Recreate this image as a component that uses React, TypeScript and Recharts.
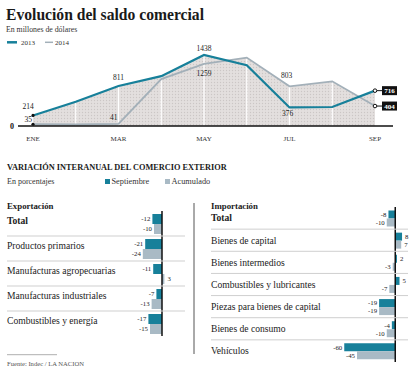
import React from "react";
import {
  Line,
  Area,
  XAxis,
  YAxis,
  ReferenceLine,
  LabelList,
  BarChart,
  Bar,
  ComposedChart,
} from "recharts";

const months = ["ENE", "FEB", "MAR", "ABR", "MAY", "JUN", "JUL", "AGO", "SEP"];
const monthTicks = ["ENE", "MAR", "MAY", "JUL", "SEP"];
const saldo2013 = [214, 490, 811, 1010, 1438, 1230, 376, 385, 716];
const saldo2014 = [35, 30, 41, 950, 1259, 1385, 803, 905, 404];

const exportCategories = [
  "Total",
  "Productos primarios",
  "Manufacturas agropecuarias",
  "Manufacturas industriales",
  "Combustibles y energía",
];
const exportSeptiembre = [-12, -21, -11, -7, -17];
const exportAcumulado = [-10, -24, 3, -13, -15];

const importCategories = [
  "Total",
  "Bienes de capital",
  "Bienes intermedios",
  "Combustibles y lubricantes",
  "Piezas para bienes de capital",
  "Bienes de consumo",
  "Vehículos",
];
const importSeptiembre = [-8, 8, 2, 5, -19, -4, -60];
const importAcumulado = [-10, 7, -3, -7, -19, -10, -45];

const TEAL = "#17809a";
const GRAY = "#a9bac5";
const LINE_GRAY = "#a3b0b9";
const SERIF = '"Liberation Serif", "Times New Roman", serif';

const lineData = months.map((m, i) => ({ month: m, y2013: saldo2013[i], y2014: saldo2014[i] }));
const exportData = exportCategories.map((name, i) => ({
  name,
  sep: exportSeptiembre[i],
  acu: exportAcumulado[i],
}));
const importData = importCategories.map((name, i) => ({
  name,
  sep: importSeptiembre[i],
  acu: importAcumulado[i],
}));

// label placement per point index (relative to the point)
const pos2013: Record<number, { dx: number; dy: number; anchor: string }> = {
  0: { dx: -5, dy: -6, anchor: "middle" },
  2: { dx: 0, dy: -5.5, anchor: "middle" },
  4: { dx: 0, dy: -4, anchor: "middle" },
  6: { dx: -2, dy: 9, anchor: "middle" },
};
const pos2014: Record<number, { dx: number; dy: number; anchor: string }> = {
  0: { dx: -1, dy: -2.5, anchor: "end" },
  2: { dx: -1, dy: -4, anchor: "end" },
  4: { dx: 0, dy: 12, anchor: "middle" },
  6: { dx: -3, dy: -8.5, anchor: "middle" },
};

const makeLineLabel = (pos: Record<number, { dx: number; dy: number; anchor: string }>) => (props: any) => {
  const { x, y, value, index } = props;
  if (index === 0) {
    const p = pos[0];
    return (
      <g>
        <circle cx={x} cy={y} r={1.6} fill="#111" />
        <text x={x + p.dx} y={y + p.dy} textAnchor={p.anchor} fontSize={7.5} fontFamily={SERIF} fill="#222">
          {value}
        </text>
      </g>
    );
  }
  if (index === months.length - 1) {
    return (
      <g>
        <circle cx={x} cy={y} r={1.8} fill="#fff" stroke="#111" strokeWidth={1} />
        <line x1={x + 1.8} y1={y} x2={x + 7} y2={y} stroke="#111" strokeWidth={1} />
        <rect x={x + 7} y={y - 4.5} width={15} height={9} fill="#111" />
        <text x={x + 14.5} y={y + 2.6} textAnchor="middle" fontSize={7} fontWeight="bold" fontFamily={SERIF} fill="#fff">
          {value}
        </text>
      </g>
    );
  }
  const p = pos[index];
  if (!p) return null;
  return (
    <text x={x + p.dx} y={y + p.dy} textAnchor={p.anchor} fontSize={7.5} fontFamily={SERIF} fill="#222">
      {value}
    </text>
  );
};

const valueLabel = (props: any) => {
  const { x, y, width, height, value } = props;
  const neg = value < 0;
  const end = neg ? Math.min(x, x + width) : Math.max(x, x + width);
  return (
    <text
      x={neg ? end - 2 : end + 3}
      y={y + height / 2}
      dy="0.35em"
      textAnchor={neg ? "end" : "start"}
      fontSize={6.8}
      fontFamily={SERIF}
      fill="#222"
    >
      {value}
    </text>
  );
};

const CategoryTick = (props: any) => {
  const { y, payload, index, count, band, left, right, dy } = props;
  return (
    <g>
      <text
        x={left}
        y={y + dy}
        dy="0.35em"
        fontSize={9.6}
        fontFamily={SERIF}
        fontWeight={index === 0 ? "bold" : "normal"}
        fill="#222"
      >
        {payload.value}
      </text>
      {index < count - 1 && (
        <line x1={left} x2={right} y1={y + band / 2} y2={y + band / 2} stroke="#cfcfcf" strokeWidth={1} />
      )}
    </g>
  );
};

const App = () => {
  return (
    <div style={{ position: "absolute", left: 0, top: 0, width: 420, height: 384, background: "#fff" }}>
      <svg width={420} height={384} style={{ position: "absolute", left: 0, top: 0 }}>
        <text
          x={6}
          y={20}
          fontSize={17}
          fontWeight="bold"
          fontFamily={SERIF}
          fill="#1a1a1a"
          textLength={198}
          lengthAdjust="spacingAndGlyphs"
        >
          Evolución del saldo comercial
        </text>
        <text x={6} y={31.5} fontSize={7.8} fontFamily={SERIF} fill="#333">
          En millones de dólares
        </text>
        <line x1={7} x2={17} y1={42.3} y2={42.3} stroke={TEAL} strokeWidth={2.5} />
        <text x={21} y={44.6} fontSize={7} fontFamily={SERIF} fill="#333">2013</text>
        <line x1={45} x2={53} y1={42.3} y2={42.3} stroke={LINE_GRAY} strokeWidth={1.5} />
        <text x={55} y={44.6} fontSize={7} fontFamily={SERIF} fill="#333">2014</text>
        <text x={14} y={128.8} textAnchor="end" fontSize={8} fontWeight="bold" fontFamily={SERIF} fill="#111">0</text>

        <text x={7} y={169.5} fontSize={8.3} fontWeight="bold" fontFamily={SERIF} fill="#1a1a1a">
          VARIACIÓN INTERANUAL DEL COMERCIO EXTERIOR
        </text>
        <text x={7} y={184} fontSize={8} fontFamily={SERIF} fill="#333">En porcentajes</text>
        <rect x={105} y={179} width={5} height={5} fill={TEAL} />
        <text x={111.5} y={184} fontSize={8.3} fontFamily={SERIF} fill="#333">Septiembre</text>
        <rect x={165} y={179} width={5} height={5} fill={GRAY} />
        <text x={171.5} y={184} fontSize={8.3} fontFamily={SERIF} fill="#333">Acumulado</text>

        <text x={7} y={208.5} fontSize={8.8} fontWeight="bold" fontFamily={SERIF} fill="#1a1a1a">Exportación</text>
        <text x={211} y={208.5} fontSize={8.8} fontWeight="bold" fontFamily={SERIF} fill="#1a1a1a">Importación</text>
        <line x1={194} x2={194} y1={203} y2={354} stroke="#555" strokeWidth={1} />
        <line x1={7} x2={57} y1={354.7} y2={354.7} stroke="#999" strokeWidth={0.8} />
        <text x={7} y={365.5} fontSize={6.6} fontFamily={SERIF} fill="#555">Fuente: Indec / LA NACION</text>
      </svg>

      <div style={{ position: "absolute", left: 0, top: 0 }}>
        <ComposedChart width={420} height={150} data={lineData} margin={{ top: 47, right: 27, bottom: 4, left: 18 }}>
          <defs>
            <pattern id="dots" width="3" height="3" patternUnits="userSpaceOnUse">
              <rect width="3" height="3" fill="#e3dfde" />
              <circle cx="1.5" cy="1.5" r="0.65" fill="#cbc6c5" />
            </pattern>
          </defs>
          <XAxis
            dataKey="month"
            ticks={monthTicks}
            interval={0}
            padding={{ left: 15, right: 18 }}
            height={20}
            tickLine={false}
            tickSize={0}
            tickMargin={10}
            axisLine={{ stroke: "#111", strokeWidth: 1.5 }}
            tick={{ fontSize: 7, fontFamily: SERIF, fill: "#333" }}
          />
          <YAxis hide domain={[0, 1600]} />
          <Area type="linear" dataKey="y2013" fill="url(#dots)" fillOpacity={1} stroke="none" isAnimationActive={false} />
          <Area type="linear" dataKey="y2014" fill="url(#dots)" fillOpacity={1} stroke="none" isAnimationActive={false} />
          {lineData.slice(1, months.length - 1).map((d) => (
            <ReferenceLine
              key={d.month}
              segment={[
                { x: d.month, y: 0 },
                { x: d.month, y: Math.max(d.y2013, d.y2014) },
              ]}
              stroke="#fff"
              strokeWidth={1.2}
              zIndex={150}
            />
          ))}
          <Line type="linear" dataKey="y2014" stroke={LINE_GRAY} strokeWidth={1.8} dot={false} isAnimationActive={false}>
            <LabelList dataKey="y2014" content={makeLineLabel(pos2014)} />
          </Line>
          <Line type="linear" dataKey="y2013" stroke={TEAL} strokeWidth={2.2} dot={false} isAnimationActive={false}>
            <LabelList dataKey="y2013" content={makeLineLabel(pos2013)} />
          </Line>
        </ComposedChart>
      </div>

      <div style={{ position: "absolute", left: 0, top: 195 }}>
        <BarChart
          layout="vertical"
          width={194}
          height={145}
          data={exportData}
          margin={{ top: 16, right: 12, bottom: 4, left: 0 }}
          barGap={0}
          barCategoryGap={3}
        >
          <XAxis type="number" domain={[-50, 25]} hide />
          <YAxis
            type="category"
            dataKey="name"
            width={122}
            axisLine={false}
            tickLine={false}
            interval={0}
            tick={(p: any) => (
              <CategoryTick {...p} count={exportCategories.length} band={25} left={7} right={185} dy={-3.3} />
            )}
          />
          <Bar dataKey="sep" fill={TEAL} isAnimationActive={false}>
            <LabelList dataKey="sep" content={valueLabel} />
          </Bar>
          <Bar dataKey="acu" fill={GRAY} isAnimationActive={false}>
            <LabelList dataKey="acu" content={valueLabel} />
          </Bar>
          <ReferenceLine x={0} stroke="#111" strokeWidth={1.5} />
        </BarChart>
      </div>

      <div style={{ position: "absolute", left: 205, top: 195 }}>
        <BarChart
          layout="vertical"
          width={215}
          height={171}
          data={importData}
          margin={{ top: 12, right: 12, bottom: 4, left: 0 }}
          barGap={0}
          barCategoryGap={3.5}
        >
          <XAxis type="number" domain={[-65, 15]} hide />
          <YAxis
            type="category"
            dataKey="name"
            width={135}
            axisLine={false}
            tickLine={false}
            interval={0}
            tick={(p: any) => (
              <CategoryTick {...p} count={importCategories.length} band={22.14} left={6} right={203} dy={0} />
            )}
          />
          <Bar dataKey="sep" fill={TEAL} isAnimationActive={false}>
            <LabelList dataKey="sep" content={valueLabel} />
          </Bar>
          <Bar dataKey="acu" fill={GRAY} isAnimationActive={false}>
            <LabelList dataKey="acu" content={valueLabel} />
          </Bar>
          <ReferenceLine x={0} stroke="#111" strokeWidth={1.5} />
        </BarChart>
      </div>
    </div>
  );
};

export default App;
